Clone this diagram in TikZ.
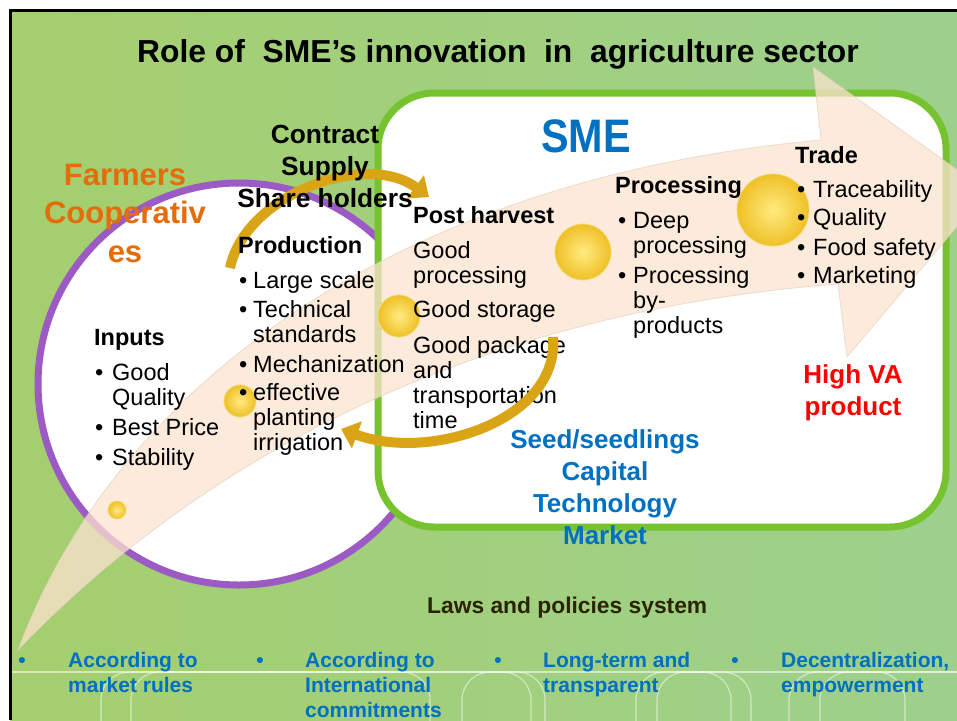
\documentclass[tikz,border=0pt]{standalone}
\usepackage{fontspec}
\setmainfont{Liberation Sans}
\usetikzlibrary{arrows.meta}
\definecolor{bgL}{HTML}{A5CF6E}
\definecolor{bgM}{HTML}{D3E38D}
\definecolor{bgR}{HTML}{9DD08D}
\definecolor{coopPurple}{HTML}{9C5BC4}
\definecolor{smeGreen}{HTML}{76C22F}
\definecolor{peach}{HTML}{FCE3CF}
\definecolor{peachEdge}{HTML}{E2CBBB}
\definecolor{ballIn}{HTML}{FFEB80}
\definecolor{ballOut}{HTML}{EFC027}
\definecolor{ballRim}{HTML}{F3D968}
\definecolor{goldA}{HTML}{D9A415}
\definecolor{orangeT}{HTML}{E46C0A}
\definecolor{blueT}{HTML}{0070C0}
\definecolor{redT}{HTML}{FF0000}
\definecolor{lawT}{HTML}{2B2400}
\newcommand\mybul[1][15pt]{\makebox[#1][l]{•}}
\newcommand\myind[1][15pt]{\hspace*{#1}}
\begin{document}
\begin{tikzpicture}[x=1pt,y=-1pt,
  body/.style={anchor=base west,inner sep=0pt,font=\fontsize{23.5}{25}\selectfont},
  head/.style={anchor=base west,inner sep=0pt,font=\bfseries\fontsize{23.5}{25}\selectfont},
  bigt/.style={anchor=base,inner sep=0pt,font=\bfseries\fontsize{26.3}{32}\selectfont},
  foot/.style={anchor=base west,inner sep=0pt,font=\bfseries\fontsize{21}{25}\selectfont,text=blueT},
  footbul/.style={anchor=base,inner sep=0pt,font=\bfseries\fontsize{21}{25}\selectfont,text=blueT},
  goldarrow/.style={draw=goldA,line width=10pt,-{Triangle[width=28pt,length=17pt]}},
  ballstyle/.style={inner color=ballIn,outer color=ballOut},
  ballrim/.style={draw=ballRim,line width=0.8pt},
  deco/.style={draw=white,draw opacity=0.55,line width=1.1pt}
]
\useasboundingbox (0,0) rectangle (957,720);
\clip (0,0) rectangle (957,720);
\fill[white] (0,0) rectangle (957,720);
% background
\shade[left color=bgL,middle color=bgM,right color=bgR] (10,10) rectangle (957,720);
% bottom decorative band
\draw[deco] (10,672) -- (957,672);
\foreach \a/\b in {101/430,131/545,462/531,636/731,657/751,789/905,820/990}
  \draw[deco,rounded corners=28pt] (\a,740) -- (\a,672) -- (\b,672) -- (\b,740);
% frame
\draw[black,line width=3pt] (957,10) -- (10,10) -- (10,720);
% farmers cooperatives circle
\draw[coopPurple,line width=7pt,fill=white] (239,384) circle[radius=201];
% SME box
\draw[smeGreen,line width=7pt,fill=white,rounded corners=56pt] (378,93) rectangle (946,527);
% big value-chain arrow
\fill[peach,fill opacity=0.75,draw=peachEdge,draw opacity=0.6,line width=0.8pt]
  (18,650) .. controls (110,400) and (380,180) .. (821,140)
  -- (813,67) -- (987,191) -- (847,357) -- (838,284)
  .. controls (500,310) and (220,440) .. (18,650) -- cycle;
% processing text (under the big ball)
\node[head] (prochead) at (615,193) {Processing};
% balls
\shade[ballstyle] (117,510) circle[radius=9];
\draw[ballrim] (117,510) circle[radius=9];
\shade[ballstyle] (240,401) circle[radius=16];
\draw[ballrim] (240,401) circle[radius=16];
\shade[ballstyle] (399,316) circle[radius=21];
\draw[ballrim] (399,316) circle[radius=21];
\shade[ballstyle] (583,252) circle[radius=28];
\draw[ballrim] (583,252) circle[radius=28];
\shade[ballstyle] (773,210) circle[radius=36];
\draw[ballrim] (773,210) circle[radius=36];
% title
\node[anchor=base west,inner sep=0pt,font=\bfseries\fontsize{31.8}{38}\selectfont] (title) at (137,62)
  {Role of\ \ SME’s innovation\ \ in\ \ agriculture sector};
% farmers cooperatives
\node[anchor=base,inner sep=0pt,font=\bfseries\fontsize{31}{38.5}\selectfont,text=orangeT] (farm) at (125,185)
  {\begin{tabular}[t]{@{}c@{}}Farmers\\Cooperativ\\es\end{tabular}};
% golden arrow 1 (behind its label)
\coordinate (g1s) at (230,268);
\coordinate (g1e) at (429,197);
\draw[goldarrow] (g1s) .. controls (245,195) and (365,150) .. (g1e);
\node[bigt] (contract) at (325,143)
  {\begin{tabular}[t]{@{}c@{}}Contract\\Supply\\Share holders\end{tabular}};
% SME
\node[anchor=base,inner sep=0pt,font=\bfseries\fontsize{47}{50}\selectfont,text=blueT] (sme) at (586,152)
  {\scalebox{0.88}[1]{SME}};
% inputs
\node[head] (inhead) at (94,345) {Inputs};
\node[body] (inlist) at (95,380)
  {\begin{tabular}[t]{@{}l@{}}\mybul[17pt]Good\\ \myind[17pt]Quality\\[5pt]
   \mybul[17pt]Best Price\\[5pt] \mybul[17pt]Stability\end{tabular}};
% production
\node[head] (prodhead) at (238,253) {Production};
\node[body] (prodlist) at (239,288)
  {\begin{tabular}[t]{@{}l@{}}\mybul[14pt]Large scale\\[4pt] \mybul[14pt]Technical\\ \myind[14pt]standards\\[5pt]
   \mybul[14pt]Mechanization\\[3pt] \mybul[14pt]effective\\ \myind[14pt]planting\\ \myind[14pt]irrigation\end{tabular}};
% post harvest
\node[head] (posthead) at (413,223) {Post harvest};
\node[body] (postlist) at (413,258)
  {\begin{tabular}[t]{@{}l@{}}Good\\ processing\\[9pt] Good storage\\[11pt] Good package\\ and\\ transportation\\ time\end{tabular}};
% processing list
\node[body] (proclist) at (618,228)
  {\begin{tabular}[t]{@{}l@{}}\mybul Deep\\ \myind processing\\[5pt] \mybul Processing\\ \myind by-\\ \myind products\end{tabular}};
% trade
\node[head] (tradehead) at (795,163) {Trade};
\node[body] (tradelist) at (797,197)
  {\begin{tabular}[t]{@{}l@{}}\mybul[16pt]Traceability\\[3pt] \mybul[16pt]Quality\\[5pt]
   \mybul[16pt]Food safety\\[3pt] \mybul[16pt]Marketing\end{tabular}};
% high VA
\node[bigt,text=redT,font=\bfseries\fontsize{26}{32}\selectfont] (highva) at (853,383)
  {\begin{tabular}[t]{@{}c@{}}High VA\\product\end{tabular}};
% resources
\node[bigt,text=blueT,font=\bfseries\fontsize{26}{32}\selectfont] (res) at (605,448)
  {\begin{tabular}[t]{@{}c@{}}Seed/seedlings\\Capital\\Technology\\Market\end{tabular}};
% golden arrow 2 (over the post harvest text)
\coordinate (g2s) at (553,337);
\coordinate (g2e) at (341,429);
\draw[goldarrow] (g2s) .. controls (560,420) and (430,462) .. (g2e);
% laws
\node[anchor=base west,inner sep=0pt,font=\bfseries\fontsize{22.8}{26}\selectfont,text=lawT] (laws) at (427,613)
  {Laws and policies system};
% footer items
\node[footbul] (fb1) at (22,667) {•};
\node[foot] (f1) at (68,667) {\begin{tabular}[t]{@{}l@{}}According to\\market rules\end{tabular}};
\node[footbul] (fb2) at (260,667) {•};
\node[foot] (f2) at (305,667) {\begin{tabular}[t]{@{}l@{}}According to\\International\\commitments\end{tabular}};
\node[footbul] (fb3) at (498,667) {•};
\node[foot] (f3) at (543,667) {\begin{tabular}[t]{@{}l@{}}Long-term and\\transparent\end{tabular}};
\node[footbul] (fb4) at (735,667) {•};
\node[foot] (f4) at (781,667) {\begin{tabular}[t]{@{}l@{}}Decentralization,\\empowerment\end{tabular}};
\end{tikzpicture}
\end{document}
